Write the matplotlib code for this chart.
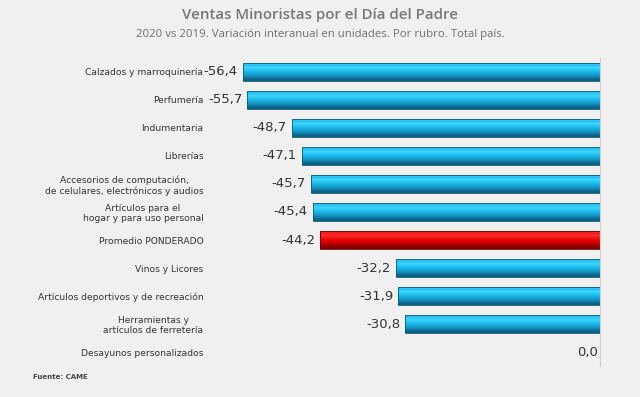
import matplotlib
matplotlib.use("Agg")
import matplotlib.pyplot as plt
import numpy as np
from matplotlib.colors import LinearSegmentedColormap

categories = [
    "Calzados y marroquinería",
    "Perfumería",
    "Indumentaria",
    "Librerías",
    "Accesorios de computación,\nde celulares, electrónicos y audios",
    "Artículos para el\nhogar y para uso personal",
    "Promedio PONDERADO",
    "Vinos y Licores",
    "Artículos deportivos y de recreación",
    "Herramientas y\nartículos de ferretería",
    "Desayunos personalizados",
]
values = [-56.4, -55.7, -48.7, -47.1, -45.7, -45.4, -44.2, -32.2, -31.9, -30.8, 0.0]
highlight = "Promedio PONDERADO"

title = "Ventas Minoristas por el Día del Padre"
subtitle = "2020 vs 2019. Variación interanual en unidades. Por rubro. Total país."
source = "Fuente: CAME"

bg = "#f0f0f0"
fig = plt.figure(figsize=(6.4, 3.97), dpi=100, facecolor=bg)
ax = fig.add_axes([0.344, 0.078, 0.594, 0.776], facecolor=bg)

n = len(categories)
y = np.arange(n)
bh = 0.66

# colours listed from top of bar to bottom
blue_cmap = LinearSegmentedColormap.from_list(
    "b", ["#5fd8f8", "#20bdf0", "#3fd4fb", "#26c4f2", "#18aee0", "#1496c6", "#0d6f95", "#0a5a7a"])
red_cmap = LinearSegmentedColormap.from_list(
    "r", ["#ff6060", "#f01818", "#ff3030", "#f01010", "#e00000", "#c00000", "#900000", "#700000"])

bars = ax.barh(y, values, height=bh, color="none", edgecolor="none")
grad = np.linspace(0, 1, 64).reshape(-1, 1)
for b, cat, v in zip(bars, categories, values):
    if v == 0:
        continue
    cmap = red_cmap if cat == highlight else blue_cmap
    x0 = b.get_x(); w = b.get_width(); yy = b.get_y(); h = b.get_height()
    im = ax.imshow(grad, cmap=cmap, aspect="auto", origin="upper",
                   extent=[x0, x0 + w, yy + h, yy], zorder=2, interpolation="bilinear")
    im.set_clip_path(b)
    edge = "#0a5a78" if cat != highlight else "#700000"
    ax.barh(b.get_y() + h / 2, w, left=x0, height=h, color="none",
            edgecolor=edge, linewidth=0.6, zorder=3)

for yi, v in zip(y, values):
    txt = f"{v:.1f}".replace(".", ",")
    ax.text(v - 0.8 if v != 0 else -0.4, yi, txt, ha="right", va="center",
            fontsize=9.5, color="#333333", family="DejaVu Sans", zorder=5)

ax.set_xlim(-60, 0)
ax.set_ylim(n - 0.5, -0.5)
ax.set_yticks(y)
ax.set_yticklabels(categories, fontsize=6.6, color="#333333", multialignment="center")
ax.tick_params(axis="y", length=0, pad=12)
ax.set_xticks([])
for s in ["top", "bottom", "left"]:
    ax.spines[s].set_visible(False)
ax.spines["right"].set_color("#d0d0d0")
ax.spines["right"].set_linewidth(0.8)

fig.text(0.5, 0.962, title, ha="center", va="center", fontsize=10.8,
         color="#777777", fontweight="semibold", family="Open Sans")
fig.text(0.5, 0.914, subtitle, ha="center", va="center", fontsize=8.2,
         color="#6f6f6f", family="Open Sans")
fig.text(0.052, 0.05, source, ha="left", va="center", fontsize=5,
         color="#444444", fontweight="bold")

fig.savefig("out.png", dpi=100, facecolor=bg)
